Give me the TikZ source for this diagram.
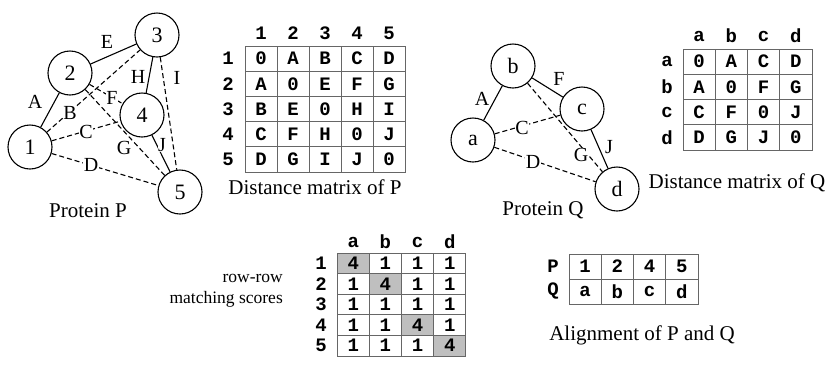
\documentclass[tikz,border=0pt]{standalone}
\usepackage{fontspec}
\setmainfont{Liberation Serif}
\newfontfamily\monob{Liberation Mono}[BoldFont={Liberation Mono Bold}]
\begin{document}
\begin{tikzpicture}[x=1pt,y=-1pt,
  vtx/.style={circle,draw,line width=1.1pt,minimum size=44pt,inner sep=0pt,font=\fontsize{22}{22}\selectfont},
  elab/.style={fill=white,inner sep=0.5pt,font=\fontsize{20}{20}\selectfont},
  captext/.style={font=\fontsize{21}{21}\selectfont,inner sep=0pt},
  solidedge/.style={line width=1.1pt},
  dashedge/.style={line width=1.1pt,dash pattern=on 5pt off 3pt},
  cell/.style={draw=gray!80!black,line width=0.9pt,minimum width=32pt,minimum height=#1,inner sep=0pt,font=\monob\bfseries\fontsize{19}{19}\selectfont},
  cell/.default=25pt,
  hdr/.style={inner sep=0pt,font=\monob\bfseries\fontsize{19}{19}\selectfont},
  hilite/.style={fill=black!25}]
\useasboundingbox (0,0) rectangle (828,376);
\fill[white] (0,0) rectangle (828,376);

% ---------- Protein P ----------
\node[vtx] (p1) at (30,147) {1};
\node[vtx] (p2) at (70,73) {2};
\node[vtx] (p3) at (157,35) {3};
\node[vtx] (p4) at (142,115) {4};
\node[vtx] (p5) at (180,192) {5};
\draw[solidedge] (p1) -- (p2);
\draw[solidedge] (p2) -- (p3);
\draw[solidedge] (p3) -- (p4);
\draw[solidedge] (p4) -- (p5);
\draw[dashedge] (p1) -- (p3);
\draw[dashedge] (p1) -- (p4);
\draw[dashedge] (p1) -- (p5);
\draw[dashedge] (p2) -- (p4);
\draw[dashedge] (p2) -- (p5);
\draw[dashedge] (p3) -- (p5);
\node[elab] (lA) at (35,102) {A};
\node[elab] (lB) at (70,113) {B};
\node[elab] (lC) at (86,132) {C};
\node[elab] (lD) at (91,165) {D};
\node[elab] (lE) at (107,42) {E};
\node[elab] (lF) at (112,98) {F};
\node[elab] (lG) at (124,148) {G};
\node[elab] (lH) at (138,77) {H};
\node[elab] (lI) at (177,78) {I};
\node[elab] (lJ) at (162,145) {J};
\node[captext] (capP) at (88,211) {Protein P};

% ---------- Distance matrix of P ----------
\foreach \c [count=\i] in {1,2,3,4,5}
  \node[hdr] (mph\i) at ({229+32*\i},33) {\c};
\foreach \r [count=\j] in {1,2,3,4,5}
  \node[hdr] (mpr\j) at (228,{33.4+25.2*\j}) {\r};
\foreach \row [count=\j] in {{0,A,B,C,D},{A,0,E,F,G},{B,E,0,H,I},{C,F,H,0,J},{D,G,I,J,0}}
  \foreach \v [count=\i] in \row
    \node[cell=25.2pt] (mp-\j-\i) at ({229+32*\i},{33.4+25.2*\j}) {\v};
\node[captext] (capMP) at (315,187) {Distance matrix of P};

% ---------- Protein Q ----------
\node[vtx] (qa) at (473,140) {a};
\node[vtx] (qb) at (513,66) {b};
\node[vtx] (qc) at (582,109) {c};
\node[vtx] (qd) at (617,189) {d};
\draw[solidedge] (qa) -- (qb);
\draw[solidedge] (qb) -- (qc);
\draw[solidedge] (qc) -- (qd);
\draw[dashedge] (qa) -- (qc);
\draw[dashedge] (qa) -- (qd);
\draw[dashedge] (qb) -- (qd);
\node[elab] (mA) at (482,99) {A};
\node[elab] (mF) at (559,79) {F};
\node[elab] (mC) at (522,128) {C};
\node[elab] (mG) at (581,155) {G};
\node[elab] (mJ) at (609,147) {J};
\node[elab] (mD) at (533,162) {D};
\node[captext] (capQ) at (543,210) {Protein Q};

% ---------- Distance matrix of Q ----------
\foreach \c [count=\i] in {a,b,c,d}
  \node[hdr] (mqh\i) at ({666.9+32.25*\i},36) {\c};
\foreach \r [count=\j] in {a,b,c,d}
  \node[hdr] (mqr\j) at (667,{36.4+25.25*\j}) {\r};
\foreach \row [count=\j] in {{0,A,C,D},{A,0,F,G},{C,F,0,J},{D,G,J,0}}
  \foreach \v [count=\i] in \row
    \node[cell=25.25pt,minimum width=32.25pt] (mq-\j-\i) at ({666.9+32.25*\i},{36.4+25.25*\j}) {\v};
\node[captext] (capMQ) at (737,183) {Distance matrix of Q};

% ---------- Row-row matching scores ----------
\node[font=\fontsize{17.5}{21}\selectfont,align=right,inner sep=0pt,anchor=east] (rr) at (283,291) {row-row\\matching scores};
\foreach \c [count=\i] in {a,b,c,d}
  \node[hdr] (sh\i) at ({321+32.2*\i},242) {\c};
\foreach \r [count=\j] in {1,2,3,4,5}
  \node[hdr] (sr\j) at (321,{242.7+20.6*\j}) {\r};
\foreach \row [count=\j] in {{4,1,1,1},{1,4,1,1},{1,1,1,1},{1,1,4,1},{1,1,1,4}}
  \foreach \v [count=\i] in \row {
    \ifnum\v=4
      \node[cell=20.6pt,minimum width=32.2pt,hilite] (s-\j-\i) at ({321+32.2*\i},{242.7+20.6*\j}) {\v};
    \else
      \node[cell=20.6pt,minimum width=32.2pt] (s-\j-\i) at ({321+32.2*\i},{242.7+20.6*\j}) {\v};
    \fi
  }

% ---------- Alignment ----------
\node[hdr] (alP) at (553,266.5) {P};
\node[hdr] (alQ) at (553,291.5) {Q};
\foreach \v [count=\i] in {1,2,4,5}
  \node[cell=25pt,minimum width=32.25pt] (al1-\i) at ({552.9+32.25*\i},266.5) {\v};
\foreach \v [count=\i] in {a,b,c,d}
  \node[cell=25pt,minimum width=32.25pt] (al2-\i) at ({552.9+32.25*\i},291.5) {\v};
\node[captext] (capAl) at (642,335) {Alignment of P and Q};
\end{tikzpicture}
\end{document}
